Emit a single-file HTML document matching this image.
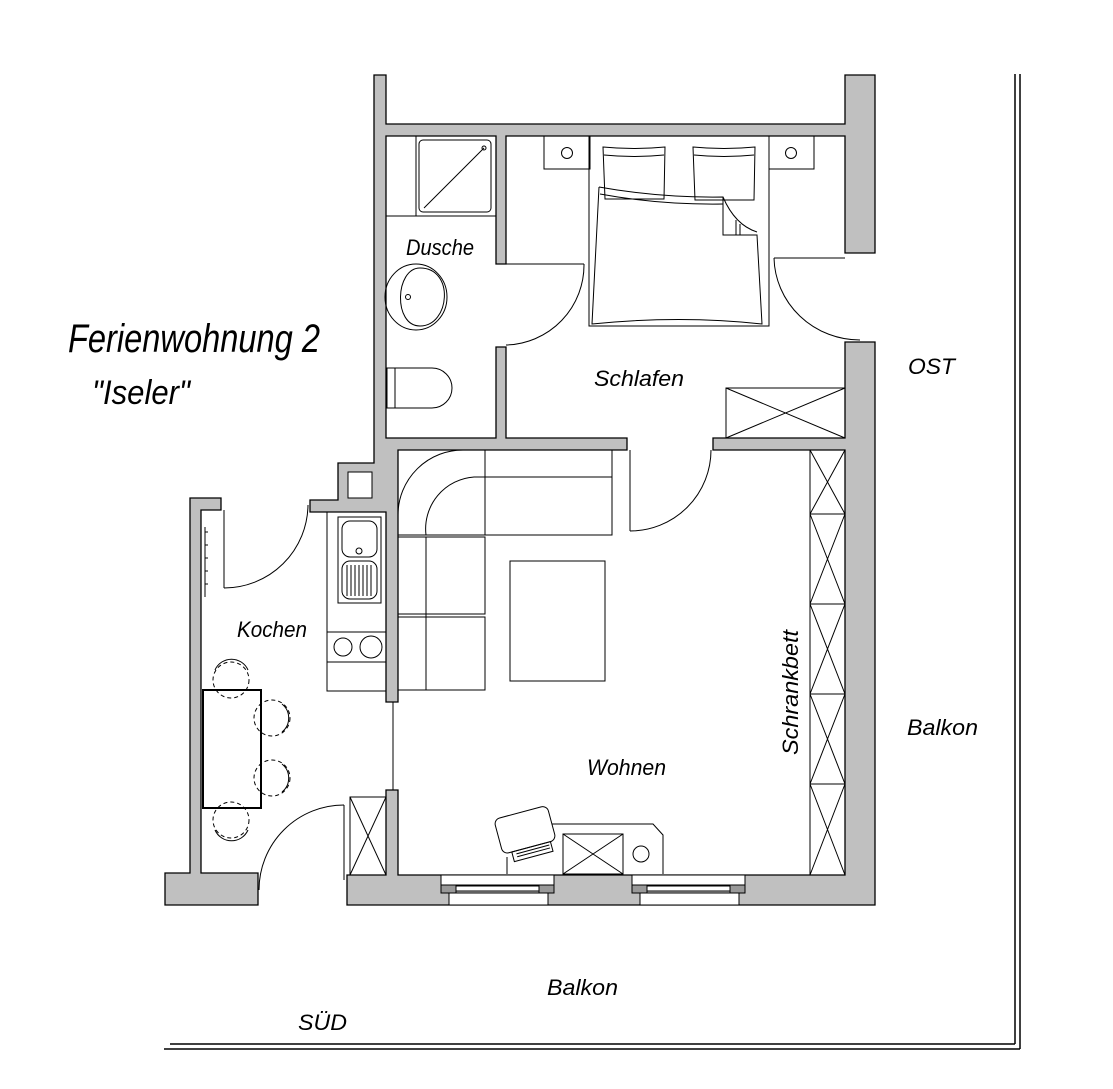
<!DOCTYPE html>
<html><head><meta charset="utf-8"><style>
html,body{margin:0;padding:0;background:#fff;}
svg{display:block;}
text{font-family:"Liberation Sans Narrow","Liberation Sans",sans-serif;font-style:italic;fill:#000;}
</style></head><body>
<svg width="1113" height="1089" viewBox="0 0 1113 1089" xmlns="http://www.w3.org/2000/svg">
<rect width="1113" height="1089" fill="#fff"/>
<!-- outer border lines -->
<g stroke="#000" stroke-width="1.5" fill="none">
<line x1="1015" y1="74" x2="1015" y2="1044"/>
<line x1="1020" y1="74" x2="1020" y2="1049"/>
<line x1="170" y1="1044" x2="1015" y2="1044"/>
<line x1="164" y1="1049" x2="1020" y2="1049"/>
</g>
<!-- walls -->
<g fill="#c0c0c0" stroke="#000" stroke-width="1.3">
<polygon points="374,75 386,75 386,124 845,124 845,75 875,75 875,253 845,253 845,136 506,136 506,264 496,264 496,136 386,136 386,438 496,438 496,347 506,347 506,438 627,438 627,450 398,450 398,702 386,702 386,512 310,512 310,500 338,500 338,463 374,463"/>
<polygon points="713,438 845,438 845,342 875,342 875,905 347,905 347,875 386,875 386,790 398,790 398,875 845,875 845,450 713,450"/>
<polygon points="190,498 221,498 221,510 201,510 201,873 258,873 258,905 165,905 165,873 190,873"/>
</g>
<rect x="348" y="472" width="24" height="26" fill="#fff" stroke="#000"/>
<!-- windows -->
<g stroke="#000" stroke-width="1">
<rect x="441" y="875" width="113" height="10" fill="#fff"/>
<rect x="441" y="885" width="15" height="8" fill="#999"/>
<rect x="539" y="885" width="15" height="8" fill="#999"/>
<rect x="456" y="886" width="83" height="5" fill="#fff"/>
<rect x="449" y="893" width="99" height="12" fill="#fff"/>
<rect x="632" y="875" width="113" height="10" fill="#fff"/>
<rect x="632" y="885" width="15" height="8" fill="#999"/>
<rect x="730" y="885" width="15" height="8" fill="#999"/>
<rect x="647" y="886" width="83" height="5" fill="#fff"/>
<rect x="640" y="893" width="99" height="12" fill="#fff"/>
</g>
<g stroke="#000" stroke-width="1" fill="none">
<!-- doors -->
<line x1="506" y1="264" x2="584" y2="264"/>
<path d="M584,264 A80,80 0 0 1 506,345"/>
<line x1="774" y1="258" x2="845" y2="258"/>
<path d="M774,258 A86,84 0 0 0 860,340"/>
<line x1="630" y1="450" x2="630" y2="531"/>
<path d="M630,531 A81,81 0 0 0 711,450"/>
<line x1="224" y1="510" x2="224" y2="588"/>
<path d="M224,588 A84,84 0 0 0 308,505"/>
<line x1="344" y1="805" x2="344" y2="880"/>
<path d="M344,805 A85,85 0 0 0 259,890"/>
<line x1="393" y1="702" x2="393" y2="790"/>
<!-- radiator -->
<line x1="205" y1="527" x2="205" y2="597"/>
<line x1="205" y1="532" x2="208" y2="532"/><line x1="205" y1="545" x2="208" y2="545"/><line x1="205" y1="558" x2="208" y2="558"/><line x1="205" y1="571" x2="208" y2="571"/><line x1="205" y1="584" x2="208" y2="584"/>
<!-- bathroom -->
<rect x="386" y="136" width="110" height="80"/>
<line x1="416" y1="136" x2="416" y2="216"/>
<rect x="419" y="140" width="72" height="72" rx="4"/>
<line x1="484" y1="148" x2="424" y2="208"/>
<circle cx="484" cy="148" r="2"/>
<ellipse cx="416" cy="297" rx="31" ry="33"/>
<path d="M420,268 C395,268 393,326 420,326 C450,326 455,268 420,268"/>
<circle cx="408" cy="297" r="2.5"/>
<path d="M387,368 L432,368 A20,20 0 0 1 432,408 L387,408 Z"/>
<line x1="395" y1="368" x2="395" y2="408"/>
<!-- bedroom -->
<rect x="544" y="136" width="46" height="33"/>
<circle cx="567" cy="153" r="5.5"/>
<rect x="769" y="136" width="45" height="33"/>
<circle cx="791" cy="153" r="5.5"/>
<rect x="589" y="136" width="180" height="190"/>
<path d="M603,147 Q634,150 665,147 L664,199 L605,199 Z"/>
<path d="M604,155 Q634,158 664,155"/>
<path d="M693,147 Q724,150 755,147 L754,200 L695,200 Z"/>
<path d="M694,155 Q724,158 754,155"/>
<path d="M599,187 Q660,198 723,197 L723,235 L757,235 L762,324 Q680,315 592,324 L599,187"/>
<path d="M600,194 Q660,205 723,204"/>
<path d="M723,197 Q735,225 757,232"/>
<line x1="736" y1="220" x2="736" y2="235"/><line x1="740" y1="224" x2="740" y2="235"/>
<rect x="726" y="388" width="119" height="50"/>
<line x1="726" y1="388" x2="845" y2="438"/><line x1="726" y1="438" x2="845" y2="388"/>
<!-- sofa -->
<rect x="485" y="450" width="127" height="85"/>
<line x1="485" y1="477" x2="612" y2="477"/>
<path d="M398,535 L398,515 A65,65 0 0 1 464,450 L485,450 L485,535 Z"/>
<path d="M426,535 A52,52 0 0 1 474,477 L485,477"/>
<rect x="398" y="537" width="87" height="77"/>
<rect x="398" y="617" width="87" height="73"/>
<line x1="426" y1="537" x2="426" y2="690"/>
<rect x="510" y="561" width="95" height="120"/>
<!-- wardrobe -->
<rect x="810" y="450" width="35" height="425"/>
<line x1="810" y1="514" x2="845" y2="514"/><line x1="810" y1="604" x2="845" y2="604"/><line x1="810" y1="694" x2="845" y2="694"/><line x1="810" y1="784" x2="845" y2="784"/>
<path d="M810,450 L845,514 M845,450 L810,514 M810,514 L845,604 M845,514 L810,604 M810,604 L845,694 M845,604 L810,694 M810,694 L845,784 M845,694 L810,784 M810,784 L845,875 M845,784 L810,875"/>
<!-- kitchen counter -->
<rect x="327" y="512" width="59" height="179"/>
<rect x="338" y="517" width="43" height="86"/>
<rect x="342" y="521" width="35" height="36" rx="8"/>
<rect x="342" y="561" width="35" height="38" rx="8"/>
<path d="M347,565 V596 M351,565 V596 M355,565 V596 M359,565 V596 M363,565 V596 M367,565 V596 M371,565 V596"/>
<circle cx="359" cy="551" r="3"/>
<line x1="327" y1="632" x2="386" y2="632"/><line x1="327" y1="662" x2="386" y2="662"/>
<circle cx="343" cy="647" r="9"/><circle cx="371" cy="647" r="11"/>
<!-- kitchen table -->
<rect x="203" y="690" width="58" height="118" stroke-width="2"/>
<g stroke-dasharray="4,3"><circle cx="231" cy="680" r="18"/><circle cx="272" cy="718" r="18"/><circle cx="272" cy="778" r="18"/><circle cx="231" cy="820" r="18"/></g>
<path d="M215,670 A18,18 0 0 1 248,670"/><path d="M282,704 A18,18 0 0 1 282,732"/><path d="M282,764 A18,18 0 0 1 282,792"/><path d="M215,830 A18,18 0 0 0 248,830"/>
<!-- small cabinet -->
<rect x="350" y="797" width="36" height="78"/>
<line x1="350" y1="797" x2="386" y2="875"/><line x1="386" y1="797" x2="350" y2="875"/>
<!-- desk -->
<path d="M507,874 L507,857 M552,824 L653,824 L663,835 L663,874"/>
<rect x="563" y="834" width="60" height="40"/>
<line x1="563" y1="834" x2="623" y2="874"/><line x1="623" y1="834" x2="563" y2="874"/>
<circle cx="641" cy="854" r="8"/>
<g transform="rotate(-15 524 828)">
<rect x="497" y="812" width="55" height="36" rx="6"/>
<rect x="506" y="848" width="40" height="10"/>
<path d="M510,851 H544 M510,854 H544"/>
</g>
</g>
<!-- labels -->
<text x="68" y="352" font-size="40" textLength="252" lengthAdjust="spacingAndGlyphs">Ferienwohnung 2</text>
<text x="92" y="404" font-size="34" textLength="98" lengthAdjust="spacingAndGlyphs">"Iseler"</text>
<text x="406" y="255" font-size="22" textLength="68" lengthAdjust="spacingAndGlyphs">Dusche</text>
<text x="594" y="386" font-size="22" textLength="90" lengthAdjust="spacingAndGlyphs">Schlafen</text>
<text x="908" y="374" font-size="22" textLength="47" lengthAdjust="spacingAndGlyphs">OST</text>
<text x="237" y="637" font-size="22" textLength="70" lengthAdjust="spacingAndGlyphs">Kochen</text>
<text x="587" y="775" font-size="22" textLength="79" lengthAdjust="spacingAndGlyphs">Wohnen</text>
<text x="0" y="0" font-size="22" textLength="125" lengthAdjust="spacingAndGlyphs" transform="translate(798,755) rotate(-90)">Schrankbett</text>
<text x="907" y="735" font-size="22" textLength="71" lengthAdjust="spacingAndGlyphs">Balkon</text>
<text x="547" y="995" font-size="22" textLength="71" lengthAdjust="spacingAndGlyphs">Balkon</text>
<text x="298" y="1030" font-size="22" textLength="49" lengthAdjust="spacingAndGlyphs">SÜD</text>
</svg>
</body></html>
